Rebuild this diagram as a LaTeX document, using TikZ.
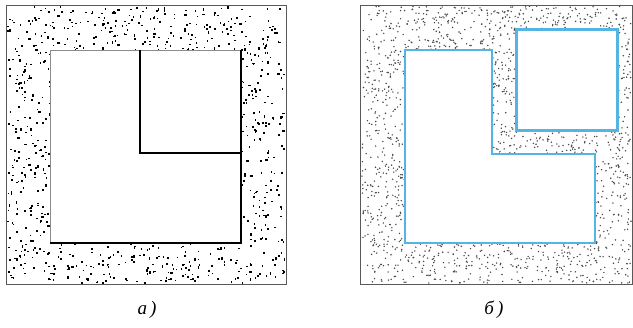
\documentclass[tikz,border=0pt]{standalone}
\usepackage{fontspec}
\newfontfamily\capfont{Liberation Serif}
\definecolor{bluel}{RGB}{85,180,225}
\begin{document}
\begin{tikzpicture}[x=1pt,y=-1pt,
  frame/.style={draw=black!65,line width=0.9pt},
  thinedge/.style={draw=black!45,line width=0.8pt},
  thickedge/.style={draw=black,line width=2.2pt},
  blueedge/.style={draw=bluel,line width=2.8pt,line join=miter},
  caption/.style={font=\capfont\itshape\fontsize{19}{19}\selectfont,inner sep=0pt}]
\useasboundingbox (0,0) rectangle (633,328);
\pgfmathsetseed{7}
% left stipple
\foreach \i in {1,...,1500}{
  \pgfmathsetmacro\px{7+277*rnd}
  \pgfmathsetmacro\py{6+276*rnd}
  \pgfmathsetmacro\w{1.0+1.4*rnd}
  \pgfmathsetmacro\h{1.0+1.4*rnd}
  \fill[black] (\px,\py) rectangle ++(\w,\h);
}
% right stipple
\foreach \i in {1,...,2600}{
  \pgfmathsetmacro\px{362+269*rnd}
  \pgfmathsetmacro\py{6+277*rnd}
  \fill[black!72] (\px,\py) circle (0.8);
}
% left panel
\fill[white] (50,50) rectangle (241,243);
\node[frame,minimum width=280,minimum height=279,inner sep=0pt,anchor=north west] (outerA) at (6,5) {};
\draw[thinedge] (241,50) -- (50,50) -- (50,243);
\coordinate (a1) at (140,50);
\coordinate (a2) at (140,153);
\coordinate (a3) at (241,153);
\coordinate (a4) at (241,50);
\coordinate (a5) at (241,243);
\coordinate (a6) at (50,243);
\draw[thickedge] (a1) -- (a2) -- (a3);
\draw[thickedge] (a4) -- (a5) -- (a6);
% right panel
\node[frame,minimum width=272,minimum height=279,inner sep=0pt,anchor=north west] (outerB) at (360,5) {};
\coordinate (b1) at (405,50);
\coordinate (b2) at (492,50);
\coordinate (b3) at (492,154);
\coordinate (b4) at (595,154);
\coordinate (b5) at (595,243);
\coordinate (b6) at (405,243);
\fill[white] (b1) -- (b2) -- (b3) -- (b4) -- (b5) -- (b6) -- cycle;
\draw[blueedge] (b1) -- (b2) -- (b3) -- (b4) -- (b5) -- (b6) -- cycle;
\fill[white] (515,28) rectangle (616,129);
\node[blueedge,minimum width=101,minimum height=101,inner sep=0pt,anchor=north west] (sq) at (515,28) {};
% captions
\node[caption] (ca) at (147,310) {а\,)};
\node[caption] (cb) at (494,310) {б\,)};
\end{tikzpicture}
\end{document}
